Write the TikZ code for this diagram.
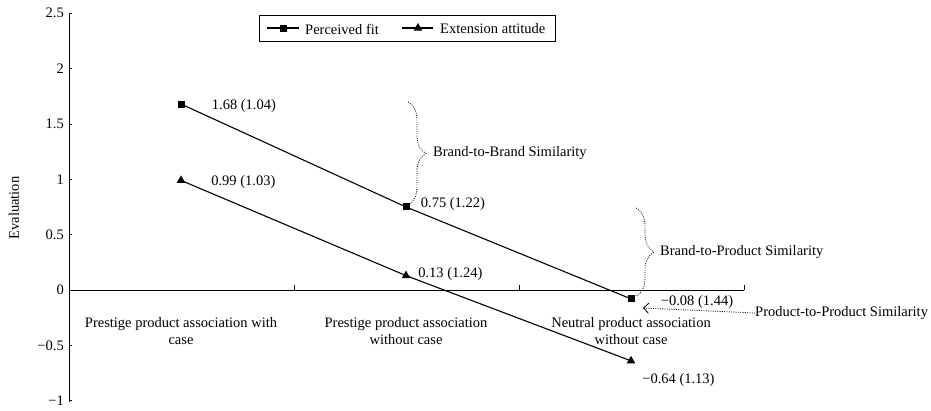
\documentclass[tikz,border=0pt]{standalone}
\usepackage{fontspec}
\setmainfont{Liberation Serif}
\usetikzlibrary{arrows.meta,positioning,shapes.geometric,decorations.pathreplacing}

\begin{document}
\begin{tikzpicture}[
  x=1pt, y=-1pt,
  declare function={ev(\v)=290-110.7*\v;},
  every node/.style={font=\fontsize{14.5}{17}\selectfont},
  axis/.style={line width=0.9pt},
  series/.style={line width=1.1pt},
  sqmark/.style={rectangle,fill=black,inner sep=0pt,minimum size=7pt},
  trimark/.style={regular polygon,regular polygon sides=3,fill=black,inner sep=0pt,minimum size=10pt},
  vallab/.style={inner sep=0pt,anchor=west},
  catlab/.style={align=center,inner sep=0pt},
  simbrace/.style={decorate,decoration={brace,amplitude=18pt},dash pattern=on 0.9pt off 1.4pt,line width=0.8pt},
  simarrow/.style={-{Straight Barb[length=5pt,width=10pt]},dash pattern=on 0.9pt off 1.4pt,line width=0.8pt}
]
\useasboundingbox (0,0) rectangle (931,410);

% axes
\coordinate (origin) at (69,290);
\coordinate (ytop) at (69,14);
\coordinate (ybot) at (69,402);
\coordinate (xend) at (744,290);
\draw[axis] (ytop) -- (ybot);
\draw[axis] (origin) -- (xend);
\foreach \v/\t in {2.5/2.5,2/2,1.5/1.5,1/1,0.5/0.5,0/0,-0.5/−0.5,-1/−1}{
  \draw[axis] (69,{ev(\v)}) -- (72,{ev(\v)});
  \node[anchor=east,inner sep=0pt] at (64,{ev(\v)}) {\t};
}
\foreach \x in {294,519,744}
  \draw[axis] (\x,290) -- (\x,285);
\node[rotate=90] (ylab) at (14,208) {Evaluation};

% categories
\node[catlab] (cat1) at (181,331) {Prestige product association with\\case};
\node[catlab] (cat2) at (406,331) {Prestige product association\\without case};
\node[catlab] (cat3) at (631,331) {Neutral product association\\without case};

% data
\node[sqmark] (pf1) at (181,{ev(1.68)}) {};
\node[sqmark] (pf2) at (406,{ev(0.75)}) {};
\node[sqmark] (pf3) at (631,{ev(-0.08)}) {};
\node[trimark] (ea1) at (181,{ev(0.99)}) {};
\node[trimark] (ea2) at (406,{ev(0.13)}) {};
\node[trimark] (ea3) at (631,{ev(-0.64)}) {};
\draw[series] (pf1.center) -- (pf2.center) -- (pf3.center);
\draw[series] (ea1.center) -- (ea2.center) -- (ea3.center);

\node[vallab,right=27pt of pf1,yshift=-2pt] (pf1lab) {1.68 (1.04)};
\node[vallab,right=27pt of ea1,yshift=-2pt] (ea1lab) {0.99 (1.03)};
\node[vallab,right=11pt of pf2,yshift=3pt] (pf2lab) {0.75 (1.22)};
\node[vallab,right=9pt of ea2,yshift=2pt] (ea2lab) {0.13 (1.24)};
\node[vallab,right=26pt of pf3,yshift=-3pt] (pf3lab) {−0.08 (1.44)};
\node[vallab,right=8pt of ea3,yshift=-19pt] (ea3lab) {−0.64 (1.13)};

% similarity marks
\coordinate (bb1) at (408,102);
\coordinate (bb2) at (408,205);
\draw[simbrace] (bb1) -- (bb2);
\node[vallab] (bblab) at (433,153) {Brand-to-Brand Similarity};
\coordinate (bp1) at (636,208);
\coordinate (bp2) at (636,296);
\draw[simbrace] (bp1) -- (bp2);
\node[vallab] (bplab) at (660,252) {Brand-to-Product Similarity};
\node[vallab] (pplab) at (755,313) {Product-to-Product Similarity};
\coordinate (pptip) at (643,308);
\draw[simarrow] (pplab.west) -- (pptip);

% legend
\node[draw,line width=0.8pt,minimum width=296pt,minimum height=26pt] (legbox) at (407,28) {};
\node[sqmark] (legsq) at (283,28) {};
\node[trimark] (legtri) at (418,28) {};
\draw[series] ([xshift=-16pt]legsq.center) -- ([xshift=16pt]legsq.center);
\draw[series] ([xshift=-16pt]legtri.center) -- ([xshift=15pt]legtri.center);
\node[vallab] (legpf) at (305,29) {Perceived fit};
\node[vallab] (legea) at (440,29) {Extension attitude};
\end{tikzpicture}
\end{document}
